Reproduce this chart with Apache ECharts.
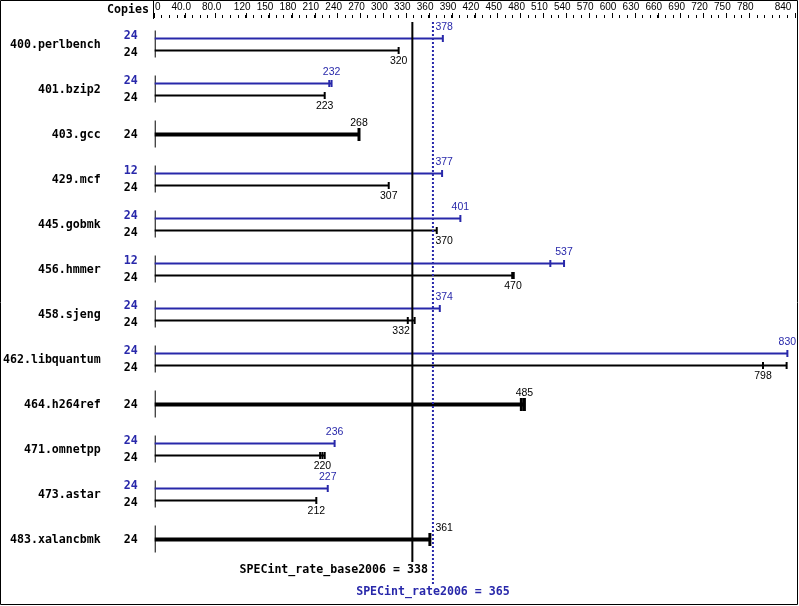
<!DOCTYPE html>
<html><head><meta charset="utf-8">
<script src="https://cdn.jsdelivr.net/npm/echarts@6/dist/echarts.min.js"></script>
<style>html,body{margin:0;padding:0;background:#fff}#c{width:799px;height:606px}</style>
</head><body><div id="c"></div>
<script>
const benchmarks = ['400.perlbench','401.bzip2','403.gcc','429.mcf','445.gobmk','456.hmmer','458.sjeng','462.libquantum','464.h264ref','471.omnetpp','473.astar','483.xalancbmk'];
const baseCopies = [24,24,24,24,24,24,24,24,24,24,24,24];
const peakCopies = [24,24,null,12,24,12,24,24,null,24,24,null];
const baseRatio = [320,223,268,307,370,470,332,798,485,220,212,361];
const peakRatio = [378,232,null,377,401,537,374,830,null,236,227,null];
const baseRuns = [[320],[223],[268],[307],[370],[469,470,471],[332,341],[798,829],[481,485],[217,220,223],[212],[361]];
const peakRuns = [[378],[229,232],null,[377],[401],[519,537],[374],[830],null,[236],[227],null];
const baseScore = 338;
const peakScore = 365;
const tickValues = [0,40,80,120,150,180,210,240,270,300,330,360,390,420,450,480,510,540,570,600,630,660,690,720,750,780,840];
const tickLabels = ['0','40.0','80.0','120','150','180','210','240','270','300','330','360','390','420','450','480','510','540','570','600','630','660','690','720','750','780','840'];

const BLUE = '#2828aa';
const BLACK = '#000';
const MONO = 'bold 11.6px "DejaVu Sans Mono"';
const VALFONT = '10.5px "Liberation Sans"';

const measureCtx = document.createElement('canvas').getContext('2d');
function textWidth(t, font) { measureCtx.font = font; return measureCtx.measureText(t).width; }

const chart = echarts.init(document.getElementById('c'), null, {renderer: 'canvas'});

function renderBars(params, api) {
  const i = params.dataIndex;
  const p0 = api.coord([0, i]);
  const x0 = p0[0], cy = p0[1];
  const lineXs = [api.coord([baseScore, i])[0], api.coord([peakScore, i])[0]];
  const children = [];
  children.push({type: 'line', shape: {x1: x0 + 0.5, y1: cy - 14, x2: x0 + 0.5, y2: cy + 13}, style: {stroke: BLACK, lineWidth: 1}});

  function placeLabel(xm, w) {
    const hits = (l) => lineXs.some(x => x >= l - 2 && x <= l + w + 2);
    const cands = [xm - w / 2];
    lineXs.forEach(x => { cands.push(x + 2.5); cands.push(x - 2.5 - w); });
    let best = null, bd = Infinity;
    cands.forEach((l, k) => {
      if (hits(l)) return;
      const d = k === 0 ? -1 : Math.abs(l + w / 2 - xm);
      if (d < bd) { bd = d; best = l; }
    });
    return best == null ? xm - w / 2 : best;
  }

  function bar(runs, median, y, color, lw, tickH, tickW, labelDy, copies, copiesDy) {
    const xmax = api.coord([Math.max.apply(null, runs), i])[0];
    children.push({type: 'line', shape: {x1: x0, y1: y, x2: xmax, y2: y}, style: {stroke: color, lineWidth: lw}});
    runs.forEach(r => {
      const x = api.coord([r, i])[0];
      children.push({type: 'line', shape: {x1: x, y1: y - tickH / 2, x2: x, y2: y + tickH / 2}, style: {stroke: color, lineWidth: tickW}});
    });
    const xm = api.coord([median, i])[0];
    const txt = String(median);
    const w = textWidth(txt, VALFONT);
    const l = placeLabel(xm, w);
    children.push({type: 'text', x: l, y: y + labelDy, style: {text: txt, fill: color, font: VALFONT, align: 'left', verticalAlign: 'middle'}});
    children.push({type: 'text', x: x0 - 17, y: y + copiesDy, style: {text: String(copies), fill: color, font: MONO, align: 'right', verticalAlign: 'middle'}});
  }

  if (peakRatio[i] == null) {
    bar(baseRuns[i], baseRatio[i], cy, BLACK, 4, 13, 3, -11, baseCopies[i], 0);
  } else {
    bar(peakRuns[i], peakRatio[i], cy - 6, BLUE, 2, 7, 2, -11, peakCopies[i], -3);
    bar(baseRuns[i], baseRatio[i], cy + 6, BLACK, 2, 7, 2, 11, baseCopies[i], 2);
  }
  return {type: 'group', children: children};
}

function renderScores(params, api) {
  const cs = params.coordSys;
  const xb = api.coord([baseScore, 0])[0];
  const xp = api.coord([peakScore, 0])[0];
  const top = cs.y, bottom = cs.y + cs.height;
  return {type: 'group', children: [
    {type: 'line', shape: {x1: xb, y1: top, x2: xb, y2: bottom}, style: {stroke: BLACK, lineWidth: 2}},
    {type: 'line', shape: {x1: xp, y1: top, x2: xp, y2: bottom + 22}, style: {stroke: BLUE, lineWidth: 2, lineDash: [2, 2]}},
    {type: 'text', x: xp - 5, y: bottom + 8, style: {text: 'SPECint_rate_base2006 = ' + baseScore, fill: BLACK, font: MONO, align: 'right', verticalAlign: 'middle'}},
    {type: 'text', x: xp, y: bottom + 30, style: {text: 'SPECint_rate2006 = ' + peakScore, fill: BLUE, font: MONO, align: 'center', verticalAlign: 'middle'}}
  ]};
}

const labelFont = {fontFamily: 'Liberation Sans', fontSize: 10, color: '#000'};

const option = {
  animation: false,
  backgroundColor: '#fff',
  grid: [
    {left: 154, right: 4, top: 22, height: 540},
    {left: 154, right: 4, top: 22, height: 540}
  ],
  xAxis: [
    {type: 'value', gridIndex: 0, position: 'top', offset: 4, min: 0, max: 840,
     axisLine: {show: false, onZero: false}, splitLine: {show: false},
     axisTick: {show: true, customValues: tickValues, length: 5, lineStyle: {color: '#000', width: 1}},
     axisLabel: {show: true, customValues: tickValues, margin: 6,
       formatter: function (v) {
         const k = tickValues.indexOf(v);
         const t = k >= 0 ? tickLabels[k] : String(v);
         if (k === 0) return '{f|' + t + '}';
         if (k === tickValues.length - 1) return '{l|' + t + '}';
         return '{n|' + t + '}';
       },
       rich: {
         n: Object.assign({padding: [0, 8, 0, 0]}, labelFont),
         f: Object.assign({padding: [0, 0, 0, 6]}, labelFont),
         l: Object.assign({padding: [0, 24, 0, 0]}, labelFont)
       }}},
    {type: 'value', gridIndex: 1, position: 'top', offset: 4, min: 0, max: 840, interval: 10,
     axisLine: {show: false, onZero: false}, splitLine: {show: false},
     axisTick: {show: true, length: 3, lineStyle: {color: '#000', width: 1}},
     axisLabel: {show: false}}
  ],
  yAxis: [
    {type: 'category', gridIndex: 0, data: benchmarks, inverse: true,
     axisLine: {show: false}, axisTick: {show: false}, splitLine: {show: false},
     axisLabel: {margin: 54, color: '#000', fontFamily: 'DejaVu Sans Mono', fontWeight: 'bold', fontSize: 11.6}},
    {type: 'value', gridIndex: 1, show: false, min: 0, max: 1, axisLine: {onZero: false}}
  ],
  series: [
    {type: 'custom', name: 'ratios', xAxisIndex: 0, yAxisIndex: 0, clip: false, z: 2,
     renderItem: renderBars,
     encode: {x: 0, y: 1},
     data: benchmarks.map((b, i) => [baseRatio[i], i])},
    {type: 'custom', name: 'scores', xAxisIndex: 0, yAxisIndex: 0, clip: false, z: 3,
     renderItem: renderScores,
     encode: {x: 0},
     data: [[baseScore, 0]]}
  ],
  graphic: [
    {type: 'rect', shape: {x: 0.5, y: 0.5, width: 797, height: 604}, style: {fill: 'none', stroke: '#000', lineWidth: 1}, z: 10},
    {type: 'line', shape: {x1: 153.5, y1: 0, x2: 153.5, y2: 19}, style: {stroke: '#000', lineWidth: 1}},
    {type: 'text', x: 149, y: 10, style: {text: 'Copies', font: MONO, fill: '#000', align: 'right', verticalAlign: 'middle'}}
  ]
};
chart.setOption(option);
</script>
</body></html>
